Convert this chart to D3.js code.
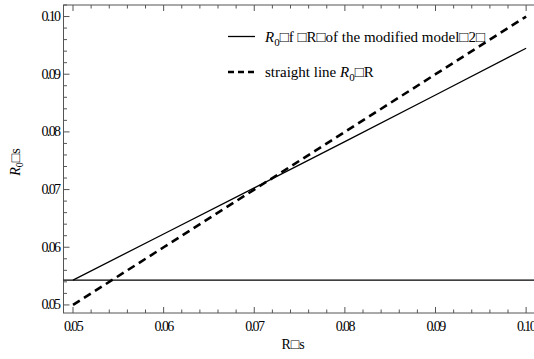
<!DOCTYPE html>
<html>
<head>
<meta charset="utf-8">
<script src="https://cdn.jsdelivr.net/npm/d3@7"></script>
<style>
  body { margin: 0; background: #fff; }
  text { font-family: "Liberation Serif", "Times New Roman", serif; }
</style>
</head>
<body>
<div id="chart"></div>
<script>
// data
var rValues = [0.05, 0.06, 0.07, 0.08, 0.09, 0.10];
var r0Model = [0.0543, 0.0623, 0.0703, 0.0783, 0.0864, 0.0945];
var r0Line = [0.05, 0.06, 0.07, 0.08, 0.09, 0.10];
var r0Level = 0.0543;
var xTicks = [0.05, 0.06, 0.07, 0.08, 0.09, 0.10];
var yTicks = [0.05, 0.06, 0.07, 0.08, 0.09, 0.10];

var W = 534, H = 359;
var fLeft = 63.5, fRight = 537, fTop = 5, fBottom = 313;

var svg = d3.select("#chart")
    .append("svg")
    .attr("width", W)
    .attr("height", H);

var x = d3.scaleLinear().domain([0.04895, 0.1012]).range([fLeft, fRight]);
var y = d3.scaleLinear().domain([0.0486, 0.1020]).range([fBottom, fTop]);

var axisColor = "#555";

// frame
svg.append("rect")
    .attr("x", fLeft).attr("y", fTop)
    .attr("width", fRight - fLeft).attr("height", fBottom - fTop)
    .attr("fill", "none")
    .attr("stroke", axisColor)
    .attr("stroke-width", 1);

// minor ticks every 0.002
var minor = d3.range(0.05, 0.1021, 0.002);
function isMajor(v) { return Math.abs(v * 100 - Math.round(v * 100)) < 1e-6; }

minor.forEach(function(v) {
    var len = isMajor(v) ? 6 : 3.5;
    // bottom and top
    svg.append("line")
        .attr("x1", x(v)).attr("x2", x(v))
        .attr("y1", fBottom).attr("y2", fBottom - len)
        .attr("stroke", axisColor);
    svg.append("line")
        .attr("x1", x(v)).attr("x2", x(v))
        .attr("y1", fTop).attr("y2", fTop + len)
        .attr("stroke", axisColor);
    // left
    svg.append("line")
        .attr("x1", fLeft).attr("x2", fLeft + len)
        .attr("y1", y(v)).attr("y2", y(v))
        .attr("stroke", axisColor);
});

// tick labels
svg.selectAll(".xlab")
    .data(xTicks)
    .enter()
    .append("text")
    .attr("x", function(d) { return x(d); })
    .attr("y", fBottom + 18)
    .attr("text-anchor", "middle")
    .style("font-size", "14px")
    .style("letter-spacing", "-1.6px")
    .text(function(d) { return d.toFixed(2); });

svg.selectAll(".ylab")
    .data(yTicks)
    .enter()
    .append("text")
    .attr("x", fLeft - 4)
    .attr("y", function(d) { return y(d) + 4.5; })
    .attr("text-anchor", "end")
    .style("font-size", "14px")
    .style("letter-spacing", "-1.6px")
    .text(function(d) { return d.toFixed(2); });

// axis titles
svg.append("text")
    .attr("x", 293)
    .attr("y", 349)
    .attr("text-anchor", "middle")
    .style("font-size", "14px")
    .text("R\u25A1s");

var yt = svg.append("text")
    .attr("transform", "translate(20,162) rotate(-90)")
    .attr("text-anchor", "middle")
    .style("font-size", "14px");
yt.append("tspan").style("font-style", "italic").text("R");
yt.append("tspan").attr("dy", 3).style("font-size", "10px").text("0");
yt.append("tspan").attr("dy", -3).text("\u25A1s");

// horizontal level line
svg.append("line")
    .attr("x1", fLeft).attr("x2", fRight)
    .attr("y1", y(r0Level)).attr("y2", y(r0Level))
    .attr("stroke", "#000")
    .attr("stroke-width", 1.2);

var line = d3.line()
    .x(function(d) { return x(d[0]); })
    .y(function(d) { return y(d[1]); });

// R0 of the modified model
svg.append("path")
    .datum(d3.zip(rValues, r0Model))
    .attr("fill", "none")
    .attr("stroke", "#000")
    .attr("stroke-width", 1.3)
    .attr("d", line);

// straight line R0 = R
svg.append("path")
    .datum(d3.zip(rValues, r0Line))
    .attr("fill", "none")
    .attr("stroke", "#000")
    .attr("stroke-width", 2.6)
    .attr("stroke-dasharray", "8,5")
    .attr("d", line);

// legend
var legend = svg.append("g");

legend.append("line")
    .attr("x1", 228).attr("x2", 255)
    .attr("y1", 36.5).attr("y2", 36.5)
    .attr("stroke", "#000").attr("stroke-width", 1.3);
legend.append("line")
    .attr("x1", 228).attr("x2", 255)
    .attr("y1", 72).attr("y2", 72)
    .attr("stroke", "#000").attr("stroke-width", 2.6)
    .attr("stroke-dasharray", "6,4");

var t1 = legend.append("text")
    .attr("x", 265).attr("y", 42)
    .style("font-size", "15px");
t1.append("tspan").style("font-style", "italic").text("R");
t1.append("tspan").attr("dy", 4).style("font-size", "11px").text("0");
t1.append("tspan").attr("dy", -4).text("\u25A1f \u25A1R\u25A1of the modified model\u25A12\u25A1");

var t2 = legend.append("text")
    .attr("x", 265).attr("y", 77)
    .style("font-size", "15px");
t2.append("tspan").text("straight line ");
t2.append("tspan").style("font-style", "italic").text("R");
t2.append("tspan").attr("dy", 4).style("font-size", "11px").text("0");
t2.append("tspan").attr("dy", -4).text("\u25A1R");
</script>
</body>
</html>
